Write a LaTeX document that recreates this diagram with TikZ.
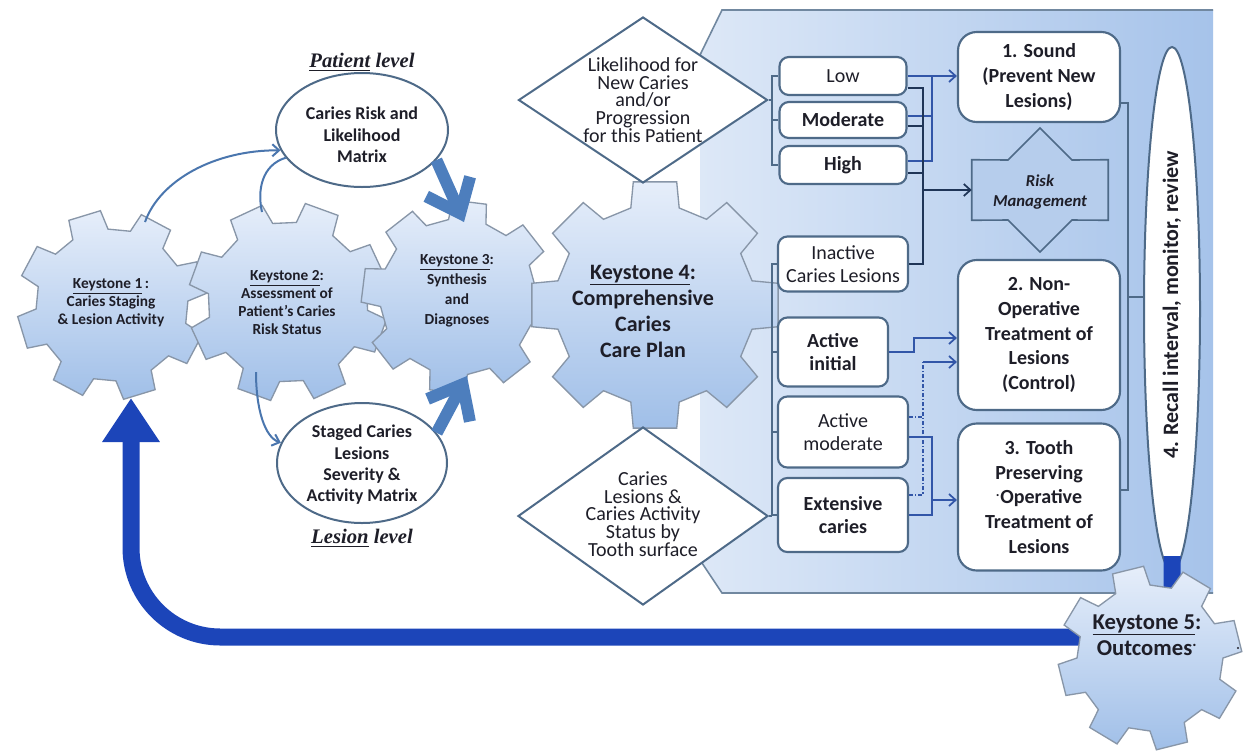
\documentclass[tikz,border=0pt]{standalone}
\usepackage{fontspec}
\setmainfont{Carlito}
\newfontfamily\timesf{Liberation Serif}
\usetikzlibrary{shapes.geometric,arrows.meta,calc}

\definecolor{slate}{HTML}{4E6A88}
\definecolor{gearline}{HTML}{8896A8}
\definecolor{geartop}{HTML}{E6EEFA}
\definecolor{gearbot}{HTML}{A0BFE8}
\definecolor{bgl}{HTML}{DDE8F7}
\definecolor{bgr}{HTML}{A6C3EA}
\definecolor{arcblue}{HTML}{4A76AE}
\definecolor{thickblue}{HTML}{4D7EBD}
\definecolor{royal}{HTML}{1C45B9}
\definecolor{toS}{HTML}{3256A8}
\definecolor{toR}{HTML}{1F3557}
\definecolor{txt}{HTML}{1E1E28}
\definecolor{riskfill}{HTML}{B6CDEC}

\newcommand{\gearshape}[5]{%
  \path[gearfill] ({#1+#4*cos(#5-14)},{#2+#4*sin(#5-14)})
   \foreach \k in {0,...,7}{
     -- ({#1+#4*cos(#5+45*\k-14)},{#2+#4*sin(#5+45*\k-14)})
     -- ({#1+#3*cos(#5+45*\k-10)},{#2+#3*sin(#5+45*\k-10)})
     -- ({#1+#3*cos(#5+45*\k+10)},{#2+#3*sin(#5+45*\k+10)})
     -- ({#1+#4*cos(#5+45*\k+14)},{#2+#4*sin(#5+45*\k+14)})
   } -- cycle;}

\tikzset{
 gearfill/.style={draw=gearline, line width=1pt, top color=geartop, bottom color=gearbot},
 gtxt/.style={align=center, font=\fontsize{11.5}{13.5}\selectfont\bfseries, text=txt, inner sep=0pt},
 ell/.style={ellipse, draw=slate, line width=1.5pt, fill=white, inner sep=0pt},
 etxt/.style={align=center, font=\fontsize{13.5}{16}\selectfont\bfseries, text=txt, inner sep=0pt},
 dia/.style={diamond, draw=slate, line width=1.5pt, fill=white, inner sep=0pt},
 dtxt/.style={align=center, font=\fontsize{15}{13.2}\selectfont, text=txt, inner sep=0pt},
 rbox/.style={rectangle, rounded corners=7pt, draw=slate, line width=1.6pt, fill=white, inner sep=0pt, align=center, text=txt, font=\fontsize{15}{17.5}\selectfont},
 obox/.style={rbox, rounded corners=14pt, minimum width=121.5pt, font=\fontsize{15}{18.5}\selectfont\bfseries},
 lvl/.style={font=\timesf\fontsize{15.5}{18}\selectfont\bfseries\itshape, text=txt, inner sep=0pt},
 brk/.style={draw=slate, line width=1.3pt},
 sline/.style={draw=toS, line width=1.3pt},
 rline/.style={draw=toR, line width=1.3pt},
 barb/.style={-{Straight Barb[length=5pt,width=9pt]}},
 arcarrow/.style={draw=arcblue, line width=1.5pt},
 fatarrow/.style={draw=thickblue, line width=9pt, -{Straight Barb[length=22pt,width=36pt]}},
}

\begin{document}
\begin{tikzpicture}[x=0.75pt,y=-0.75pt]
\useasboundingbox (0,0) rectangle (1253,751);
\fill[white] (0,0) rectangle (1253,751);

% background region
\path[left color=bgl, right color=bgr] (722,10) -- (1213,10) -- (1213,593) -- (722,593) -- (700,560) -- (700,55) -- cycle;
\draw[slate!80, line width=1.2pt] (700,55) -- (722,10) -- (1213,10);
\draw[slate!80, line width=1.2pt] (700,560) -- (722,593) -- (1213,593);

% gears 1-4
\gearshape{112}{305}{95}{76}{28}
\gearshape{288}{302}{100}{80}{20}
\gearshape{458}{297}{97}{78}{7}
\gearshape{655}{305}{125}{100}{0}

\node[gtxt] (k1) at (111,303) {\underline{Keystone 1}\,:\\Caries Staging\\\& Lesion Activity};
\node[gtxt] (k2) at (287,303) {\underline{Keystone 2}:\\Assessment of\\Patient's Caries\\Risk Status};
\node[gtxt, font=\fontsize{11.5}{15}\selectfont\bfseries] (k3) at (457,291) {\underline{Keystone 3}:\\Synthesis\\and\\Diagnoses};
\node[gtxt, font=\fontsize{16.5}{19.5}\selectfont\bfseries] (k4) at (643,311) {\underline{Keystone 4}:\\Comprehensive\\Caries\\Care Plan};

\coordinate (g1t) at (145,222);
\coordinate (g2t) at (262,212);
\coordinate (g2b) at (256,372);
\coordinate (g3t) at (464,222);
\coordinate (g3b) at (467,376);

% ellipses
\node[ell, minimum width=129pt, minimum height=85.5pt] (e1) at (362,130) {};
\node[etxt] (e1t) at (362,135) {Caries Risk and\\Likelihood\\Matrix};
\node[ell, minimum width=127.5pt, minimum height=90pt] (e2) at (362,463) {};
\node[etxt] (e2t) at (362,465) {Staged Caries\\Lesions\\Severity \&\\Activity Matrix};
\node[lvl] (pl) at (362,62) {\underline{Patient} level};
\node[lvl] (ll) at (362,538) {\underline{Lesion} level};

% arcs
\draw[arcarrow, barb] (g1t) .. controls (160,180) and (215,150) .. (e1.194);
\draw[arcarrow] (g2t) .. controls (257,190) and (262,165) .. (e1.200);
\draw[arcarrow, barb] (g2b) .. controls (256,410) and (265,437) .. (e2.166);
\draw[fatarrow] (e1.-22) -- (g3t);
\draw[fatarrow] (e2.22) -- (g3b);

% diamonds
\node[dia, minimum width=186.75pt, minimum height=124.5pt] (d1) at (643,100) {};
\node[dtxt] (d1t) at (643,100) {Likelihood for\\New Caries\\and/or\\Progression\\for this Patient};
\node[dia, minimum width=187.5pt, minimum height=133.5pt] (d2) at (643,516) {};
\node[dtxt] (d2t) at (643,514) {Caries\\Lesions \&\\Caries Activity\\Status by\\Tooth surface};

% level boxes
\node[rbox, minimum width=95.25pt, minimum height=28.5pt] (low) at (843,76) {Low};
\node[rbox, minimum width=95.25pt, minimum height=27pt, font=\fontsize{15}{17.5}\selectfont\bfseries] (mod) at (843,120) {Moderate};
\node[rbox, minimum width=95.25pt, minimum height=28.5pt, font=\fontsize{15}{17.5}\selectfont\bfseries] (high) at (843,165) {High};
\node[rbox, minimum width=97.5pt, minimum height=41.25pt] (inact) at (843,264) {Inactive\\Caries Lesions};
\node[rbox, minimum width=82.5pt, minimum height=51.75pt, font=\fontsize{15}{17.5}\selectfont\bfseries] (ai) at (833,352) {Active\\initial};
\node[rbox, minimum width=97.5pt, minimum height=53.25pt] (am) at (843,432) {Active\\moderate};
\node[rbox, minimum width=97.5pt, minimum height=55.5pt, font=\fontsize{15}{17.5}\selectfont\bfseries] (ext) at (843,515) {Extensive\\caries};

% brackets on left
\coordinate (bx) at (772,0);
\draw[brk] (low.west) -| (bx |- high.west) -- (high.west);
\draw[brk] (mod.west) -- (bx |- mod.west);
\draw[brk] (d1.east) -- (bx |- d1.east);
\draw[brk] (inact.west) -| (bx |- ext.west) -- (ext.west);
\draw[brk] (ai.west) -- (bx |- ai.west);
\draw[brk] (am.west) -- (bx |- am.west);
\draw[brk] (d2.east) -- (bx |- d2.east);

% outcome boxes
\node[obox, minimum height=67.5pt] (sound) at (1039,77) {1. Sound\\(Prevent New\\Lesions)};
\node[obox, minimum height=112.5pt] (nonop) at (1039,335) {2. Non-\\Operative\\Treatment of\\Lesions\\(Control)};
\node[obox, minimum height=110.25pt] (tooth) at (1039,497) {3. Tooth\\Preserving\\\textsuperscript{.}Operative\\Treatment of\\Lesions};

% risk management
\node[minimum width=102pt, minimum height=45pt, inner sep=0pt] (riskbox) at (1040,190) {};
\path[fill=riskfill, draw=slate, line width=1.2pt]
  (riskbox.north west) -- (1008,160) -- (1040,128) -- (1072,160) -- (riskbox.north east)
  -- (riskbox.south east) -- (1072,220) -- (1040,252) -- (1008,220) -- (riskbox.south west) -- cycle;
\node[align=center, text=txt, font=\fontsize{12.5}{15.5}\selectfont\bfseries\itshape] (risk) at (1040,192) {Risk\\Management};

% right connectors
\coordinate (vS) at (932,0);
\coordinate (vR) at (923,0);
\coordinate (c338) at (0,338);
\coordinate (c362) at (0,362);
\coordinate (c500) at (0,500);
\draw[sline, barb] (low.east) -- (sound.west |- low.east);
\draw[sline] ($(mod.east)+(0,-4)$) -| (vS |- low.east);
\draw[sline] ($(high.east)+(0,-4)$) -| (vS |- low.east);
\draw[rline] ($(low.east)+(0,12)$) -| (vR |- inact.east) -- (inact.east);
\draw[rline] ($(mod.east)+(0,6)$) -- ($(vR |- mod.east)+(0,6)$);
\draw[rline] ($(high.east)+(0,8)$) -- ($(vR |- high.east)+(0,8)$);
\draw[rline, barb] (vR |- riskbox.west) -- (riskbox.west);

\draw[sline, barb] (ai.east) -- ++(25,0) |- (nonop.west |- c338);
\draw[sline, dash pattern=on 3pt off 1.5pt on 1pt off 1.5pt] ($(ext.east)+(0,-20)$) -| (vR |- c362);
\draw[sline, dash pattern=on 3pt off 1.5pt on 1pt off 1.5pt] ($(am.east)+(0,-15)$) -- ($(vR |- am.east)+(0,-15)$);
\draw[sline, barb] (vR |- c362) -- (nonop.west |- c362);
\draw[sline] ($(am.east)+(0,5)$) -| (vS |- ext.east) -- (ext.east);
\draw[sline, barb] (vS |- c500) -- (tooth.west |- c500);

% recall ellipse
\node[ell, minimum width=42pt, minimum height=393pt] (recall) at (1172,309) {};
\node[rotate=90, text=txt, font=\fontsize{16.5}{18}\selectfont\bfseries, inner sep=0pt] (recallt) at (1172,305) {4. Recall interval, monitor, review};

\coordinate (vO) at (1128,0);
\coordinate (c297) at (0,297);
\draw[brk, line width=1pt] ($(sound.east)+(0,26)$) -| ($(vO |- tooth.east)+(0,-7)$) -- ($(tooth.east)+(0,-7)$);
\draw[brk, line width=1pt] (vO |- c297) -- (recall.west |- c297);

% return arrow
\coordinate (rb) at (1172,556);
\coordinate (k1in) at (131,398);
\draw[royal, line width=12.75pt, -{Triangle[length=33pt,width=41pt]}]
  (rb) -- (1172,637) -- (1000,637) [rounded corners=67pt] -- (131,637) -- (k1in);

% gear 5
\gearshape{1150}{658}{92}{73}{31}
\node[gtxt, font=\fontsize{17}{19.5}\selectfont\bfseries] (k5) at (1147,635) {\underline{Keystone 5}:\\Outcomes\textsuperscript{.}};
\fill[txt] (1238,648) circle (1.2);
\end{tikzpicture}
\end{document}
